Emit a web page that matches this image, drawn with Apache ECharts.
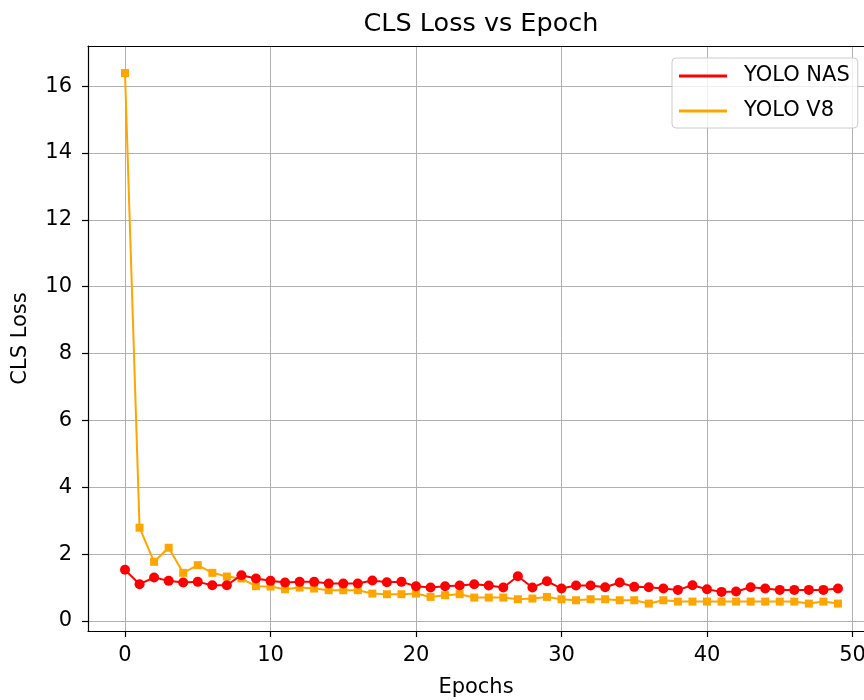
<!DOCTYPE html>
<html>
<head>
<meta charset="utf-8">
<script src="https://cdn.jsdelivr.net/npm/echarts@6/dist/echarts.min.js"></script>
<style>
html,body{margin:0;padding:0;background:#fff;}
#chart{width:864px;height:700px;}
</style>
</head>
<body>
<div id="chart"></div>
<script>
const epochs = [0,1,2,3,4,5,6,7,8,9,10,11,12,13,14,15,16,17,18,19,20,21,22,23,24,25,26,27,28,29,30,31,32,33,34,35,36,37,38,39,40,41,42,43,44,45,46,47,48,49];
const yoloNas = [1.53,1.10,1.30,1.20,1.15,1.17,1.07,1.07,1.37,1.27,1.20,1.15,1.17,1.17,1.12,1.12,1.12,1.21,1.16,1.17,1.04,1.00,1.04,1.06,1.10,1.06,1.00,1.34,1.00,1.19,0.97,1.06,1.06,1.01,1.15,1.02,1.01,0.97,0.93,1.07,0.95,0.87,0.88,1.01,0.97,0.93,0.93,0.93,0.93,0.97];
const yoloV8 = [16.39,2.79,1.77,2.19,1.44,1.67,1.44,1.33,1.27,1.04,1.03,0.95,1.00,0.97,0.92,0.92,0.92,0.82,0.80,0.80,0.82,0.72,0.77,0.80,0.70,0.70,0.70,0.65,0.67,0.72,0.65,0.62,0.65,0.65,0.62,0.62,0.52,0.62,0.58,0.58,0.58,0.58,0.58,0.58,0.58,0.58,0.58,0.52,0.58,0.52];
const xTicks = [0,10,20,30,40,50];
const yTicks = [0,2,4,6,8,10,12,14,16];
const seriesNames = ['YOLO NAS','YOLO V8'];

const FONT = 'DejaVu Sans';
const chart = echarts.init(document.getElementById('chart'), null, {renderer:'canvas'});
const pairs = arr => epochs.map((e,i)=>[e, arr[i]]);
chart.setOption({
  animation:false,
  backgroundColor:'#fff',
  title:{text:'CLS Loss vs Epoch', left:476, top:6, textAlign:'center',
    textStyle:{fontFamily:FONT, fontSize:25.5, fontWeight:'normal', color:'#000'}},
  grid:{left:88, top:46, right:0, height:585, show:false, containLabel:false, outerBoundsMode:'none'},
  legend:{left:672, top:58, orient:'vertical', itemWidth:48, itemHeight:3, icon:'rect', itemGap:11,
    padding:[6,8,5,7], borderColor:'#cccccc', borderWidth:1, borderRadius:4, backgroundColor:'rgba(255,255,255,0.8)',
    data:seriesNames,
    textStyle:{fontFamily:FONT, fontSize:21, color:'#000', lineHeight:24, padding:[0,0,0,12]}},
  xAxis:[{type:'value', min:-2.543, max:50.79, name:'Epochs', nameLocation:'middle', nameGap:46,
    nameTextStyle:{fontFamily:FONT, fontSize:21, color:'#000'},
    axisLine:{show:true, onZero:false, lineStyle:{color:'#000', width:1.2}},
    axisTick:{show:true, customValues:xTicks, length:6, lineStyle:{color:'#000', width:1.2}},
    axisLabel:{customValues:xTicks, fontFamily:FONT, fontSize:21, color:'#000', margin:14},
    splitLine:{show:true, lineStyle:{color:'#b0b0b0', width:1}}},
   {type:'value', position:'top', min:-2.543, max:50.79,
    axisLine:{show:true, onZero:false, lineStyle:{color:'#000', width:1.2}},
    axisTick:{show:false}, axisLabel:{show:false}, splitLine:{show:false}}],
  yAxis:{type:'value', min:-0.3, max:17.2, name:'CLS Loss', nameLocation:'middle', nameGap:57, nameRotate:90,
    nameTextStyle:{fontFamily:FONT, fontSize:21, color:'#000'},
    axisLine:{show:true, onZero:false, lineStyle:{color:'#000', width:1.2}},
    axisTick:{show:true, customValues:yTicks, length:6, lineStyle:{color:'#000', width:1.2}},
    axisLabel:{customValues:yTicks, fontFamily:FONT, fontSize:21, color:'#000', margin:16},
    splitLine:{show:true, lineStyle:{color:'#b0b0b0', width:1}}},
  series:[
    {name:seriesNames[0], type:'line', data:pairs(yoloNas), color:'#ff0000',
      symbol:'circle', symbolSize:10, showAllSymbol:true, lineStyle:{width:2, color:'#ff0000'}, itemStyle:{color:'#ff0000'}, z:3},
    {name:seriesNames[1], type:'line', data:pairs(yoloV8), color:'#ffa500',
      symbol:'rect', symbolSize:8, showAllSymbol:true, lineStyle:{width:2, color:'#ffa500'}, itemStyle:{color:'#ffa500'}, z:2}
  ]
});
</script>
</body>
</html>
